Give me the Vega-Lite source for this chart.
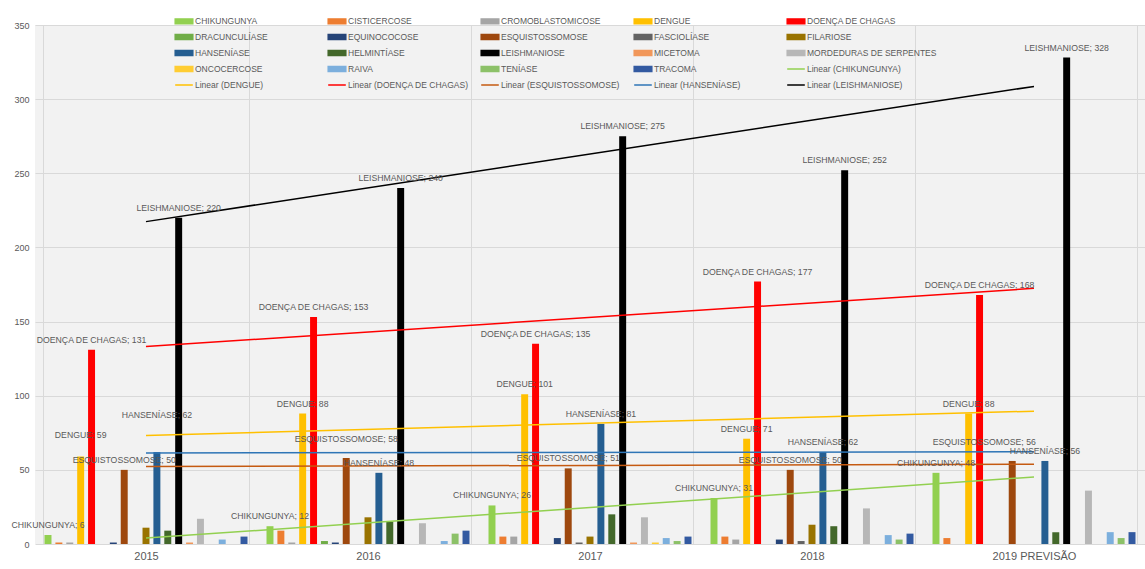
{
  "$schema": "https://vega.github.io/schema/vega-lite/v6.json",
  "width": 1145,
  "height": 569,
  "autosize": {"type": "fit", "contains": "padding"},
  "padding": {"left": 5, "top": 21, "right": 0, "bottom": 5},
  "background": "#FFFFFF",
  "config": {
    "view": {"fill": "#F2F2F2", "stroke": null},
    "font": "Liberation Sans"
  },
  "datasets": {
    "barras": [
      {"ano": "2015", "serie": "CHIKUNGUNYA", "valor": 6},
      {"ano": "2016", "serie": "CHIKUNGUNYA", "valor": 12},
      {"ano": "2017", "serie": "CHIKUNGUNYA", "valor": 26},
      {"ano": "2018", "serie": "CHIKUNGUNYA", "valor": 31},
      {"ano": "2019 PREVISÃO", "serie": "CHIKUNGUNYA", "valor": 48},
      {"ano": "2015", "serie": "CISTICERCOSE", "valor": 1},
      {"ano": "2016", "serie": "CISTICERCOSE", "valor": 9},
      {"ano": "2017", "serie": "CISTICERCOSE", "valor": 5},
      {"ano": "2018", "serie": "CISTICERCOSE", "valor": 5},
      {"ano": "2019 PREVISÃO", "serie": "CISTICERCOSE", "valor": 4},
      {"ano": "2015", "serie": "CROMOBLASTOMICOSE", "valor": 1},
      {"ano": "2016", "serie": "CROMOBLASTOMICOSE", "valor": 1},
      {"ano": "2017", "serie": "CROMOBLASTOMICOSE", "valor": 5},
      {"ano": "2018", "serie": "CROMOBLASTOMICOSE", "valor": 3},
      {"ano": "2019 PREVISÃO", "serie": "CROMOBLASTOMICOSE", "valor": 0},
      {"ano": "2015", "serie": "DENGUE", "valor": 59},
      {"ano": "2016", "serie": "DENGUE", "valor": 88},
      {"ano": "2017", "serie": "DENGUE", "valor": 101},
      {"ano": "2018", "serie": "DENGUE", "valor": 71},
      {"ano": "2019 PREVISÃO", "serie": "DENGUE", "valor": 88},
      {"ano": "2015", "serie": "DOENÇA DE CHAGAS", "valor": 131},
      {"ano": "2016", "serie": "DOENÇA DE CHAGAS", "valor": 153},
      {"ano": "2017", "serie": "DOENÇA DE CHAGAS", "valor": 135},
      {"ano": "2018", "serie": "DOENÇA DE CHAGAS", "valor": 177},
      {"ano": "2019 PREVISÃO", "serie": "DOENÇA DE CHAGAS", "valor": 168},
      {"ano": "2015", "serie": "DRACUNCULÍASE", "valor": 0},
      {"ano": "2016", "serie": "DRACUNCULÍASE", "valor": 2},
      {"ano": "2017", "serie": "DRACUNCULÍASE", "valor": 0},
      {"ano": "2018", "serie": "DRACUNCULÍASE", "valor": 0},
      {"ano": "2019 PREVISÃO", "serie": "DRACUNCULÍASE", "valor": 0},
      {"ano": "2015", "serie": "EQUINOCOCOSE", "valor": 1},
      {"ano": "2016", "serie": "EQUINOCOCOSE", "valor": 1},
      {"ano": "2017", "serie": "EQUINOCOCOSE", "valor": 4},
      {"ano": "2018", "serie": "EQUINOCOCOSE", "valor": 3},
      {"ano": "2019 PREVISÃO", "serie": "EQUINOCOCOSE", "valor": 0},
      {"ano": "2015", "serie": "ESQUISTOSSOMOSE", "valor": 50},
      {"ano": "2016", "serie": "ESQUISTOSSOMOSE", "valor": 58},
      {"ano": "2017", "serie": "ESQUISTOSSOMOSE", "valor": 51},
      {"ano": "2018", "serie": "ESQUISTOSSOMOSE", "valor": 50},
      {"ano": "2019 PREVISÃO", "serie": "ESQUISTOSSOMOSE", "valor": 56},
      {"ano": "2015", "serie": "FASCIOLÍASE", "valor": 0},
      {"ano": "2016", "serie": "FASCIOLÍASE", "valor": 0},
      {"ano": "2017", "serie": "FASCIOLÍASE", "valor": 1},
      {"ano": "2018", "serie": "FASCIOLÍASE", "valor": 2},
      {"ano": "2019 PREVISÃO", "serie": "FASCIOLÍASE", "valor": 0},
      {"ano": "2015", "serie": "FILARIOSE", "valor": 11},
      {"ano": "2016", "serie": "FILARIOSE", "valor": 18},
      {"ano": "2017", "serie": "FILARIOSE", "valor": 5},
      {"ano": "2018", "serie": "FILARIOSE", "valor": 13},
      {"ano": "2019 PREVISÃO", "serie": "FILARIOSE", "valor": 0},
      {"ano": "2015", "serie": "HANSENÍASE", "valor": 62},
      {"ano": "2016", "serie": "HANSENÍASE", "valor": 48},
      {"ano": "2017", "serie": "HANSENÍASE", "valor": 81},
      {"ano": "2018", "serie": "HANSENÍASE", "valor": 62},
      {"ano": "2019 PREVISÃO", "serie": "HANSENÍASE", "valor": 56},
      {"ano": "2015", "serie": "HELMINTÍASE", "valor": 9},
      {"ano": "2016", "serie": "HELMINTÍASE", "valor": 15},
      {"ano": "2017", "serie": "HELMINTÍASE", "valor": 20},
      {"ano": "2018", "serie": "HELMINTÍASE", "valor": 12},
      {"ano": "2019 PREVISÃO", "serie": "HELMINTÍASE", "valor": 8},
      {"ano": "2015", "serie": "LEISHMANIOSE", "valor": 220},
      {"ano": "2016", "serie": "LEISHMANIOSE", "valor": 240},
      {"ano": "2017", "serie": "LEISHMANIOSE", "valor": 275},
      {"ano": "2018", "serie": "LEISHMANIOSE", "valor": 252},
      {"ano": "2019 PREVISÃO", "serie": "LEISHMANIOSE", "valor": 328},
      {"ano": "2015", "serie": "MICETOMA", "valor": 1},
      {"ano": "2016", "serie": "MICETOMA", "valor": 0},
      {"ano": "2017", "serie": "MICETOMA", "valor": 1},
      {"ano": "2018", "serie": "MICETOMA", "valor": 0},
      {"ano": "2019 PREVISÃO", "serie": "MICETOMA", "valor": 0},
      {"ano": "2015", "serie": "MORDEDURAS DE SERPENTES", "valor": 17},
      {"ano": "2016", "serie": "MORDEDURAS DE SERPENTES", "valor": 14},
      {"ano": "2017", "serie": "MORDEDURAS DE SERPENTES", "valor": 18},
      {"ano": "2018", "serie": "MORDEDURAS DE SERPENTES", "valor": 24},
      {"ano": "2019 PREVISÃO", "serie": "MORDEDURAS DE SERPENTES", "valor": 36},
      {"ano": "2015", "serie": "ONCOCERCOSE", "valor": 0},
      {"ano": "2016", "serie": "ONCOCERCOSE", "valor": 0},
      {"ano": "2017", "serie": "ONCOCERCOSE", "valor": 1},
      {"ano": "2018", "serie": "ONCOCERCOSE", "valor": 0},
      {"ano": "2019 PREVISÃO", "serie": "ONCOCERCOSE", "valor": 0},
      {"ano": "2015", "serie": "RAIVA", "valor": 3},
      {"ano": "2016", "serie": "RAIVA", "valor": 2},
      {"ano": "2017", "serie": "RAIVA", "valor": 4},
      {"ano": "2018", "serie": "RAIVA", "valor": 6},
      {"ano": "2019 PREVISÃO", "serie": "RAIVA", "valor": 8},
      {"ano": "2015", "serie": "TENÍASE", "valor": 0},
      {"ano": "2016", "serie": "TENÍASE", "valor": 7},
      {"ano": "2017", "serie": "TENÍASE", "valor": 2},
      {"ano": "2018", "serie": "TENÍASE", "valor": 3},
      {"ano": "2019 PREVISÃO", "serie": "TENÍASE", "valor": 4},
      {"ano": "2015", "serie": "TRACOMA", "valor": 5},
      {"ano": "2016", "serie": "TRACOMA", "valor": 9},
      {"ano": "2017", "serie": "TRACOMA", "valor": 5},
      {"ano": "2018", "serie": "TRACOMA", "valor": 7},
      {"ano": "2019 PREVISÃO", "serie": "TRACOMA", "valor": 8}
    ],
    "tendencias": [
      {"ano": "2015", "serie": "Linear (CHIKUNGUNYA)", "valor": 4.0},
      {"ano": "2019 PREVISÃO", "serie": "Linear (CHIKUNGUNYA)", "valor": 45.2},
      {"ano": "2015", "serie": "Linear (DENGUE)", "valor": 73.2},
      {"ano": "2019 PREVISÃO", "serie": "Linear (DENGUE)", "valor": 89.6},
      {"ano": "2015", "serie": "Linear (DOENÇA DE CHAGAS)", "valor": 133.2},
      {"ano": "2019 PREVISÃO", "serie": "Linear (DOENÇA DE CHAGAS)", "valor": 172.4},
      {"ano": "2015", "serie": "Linear (ESQUISTOSSOMOSE)", "valor": 52.2},
      {"ano": "2019 PREVISÃO", "serie": "Linear (ESQUISTOSSOMOSE)", "valor": 53.8},
      {"ano": "2015", "serie": "Linear (HANSENÍASE)", "valor": 61.4},
      {"ano": "2019 PREVISÃO", "serie": "Linear (HANSENÍASE)", "valor": 62.2},
      {"ano": "2015", "serie": "Linear (LEISHMANIOSE)", "valor": 217.4},
      {"ano": "2019 PREVISÃO", "serie": "Linear (LEISHMANIOSE)", "valor": 308.6}
    ]
  },
  "encoding": {
    "x": {
      "field": "ano", "type": "nominal", "sort": null,
      "scale": {"domain": ["2015", "2016", "2017", "2018", "2019 PREVISÃO"], "paddingInner": 0.068, "paddingOuter": 0.034},
      "axis": {"title": null, "labelAngle": 0, "labelFontSize": 11, "labelColor": "#595959", "labelPadding": 6, "domain": false, "ticks": false, "grid": true, "tickBand": "extent", "gridColor": "#D9D9D9", "minExtent": 20, "maxExtent": 20}
    },
    "y": {
      "field": "valor", "type": "quantitative",
      "scale": {"domain": [0, 350], "nice": false},
      "axis": {"title": null, "values": [0, 50, 100, 150, 200, 250, 300, 350], "labelFontSize": 9, "labelColor": "#595959", "labelPadding": 6, "domain": false, "ticks": false, "gridColor": "#D9D9D9", "minExtent": 30, "maxExtent": 30}
    }
  },
  "layer": [
    {
      "data": {"name": "barras"},
      "mark": {"type": "bar"},
      "encoding": {
        "xOffset": {"field": "serie", "type": "nominal", "sort": null, "scale": {"paddingInner": 0.36, "paddingOuter": 0.18}},
        "color": {
          "field": "serie", "type": "nominal",
          "scale": {
            "domain": ["CHIKUNGUNYA", "CISTICERCOSE", "CROMOBLASTOMICOSE", "DENGUE", "DOENÇA DE CHAGAS", "DRACUNCULÍASE", "EQUINOCOCOSE", "ESQUISTOSSOMOSE", "FASCIOLÍASE", "FILARIOSE", "HANSENÍASE", "HELMINTÍASE", "LEISHMANIOSE", "MICETOMA", "MORDEDURAS DE SERPENTES", "ONCOCERCOSE", "RAIVA", "TENÍASE", "TRACOMA", "Linear (CHIKUNGUNYA)", "Linear (DENGUE)", "Linear (DOENÇA DE CHAGAS)", "Linear (ESQUISTOSSOMOSE)", "Linear (HANSENÍASE)", "Linear (LEISHMANIOSE)"],
            "range": ["#92D050", "#ED7D31", "#A5A5A5", "#FFC000", "#FF0000", "#70AD47", "#264478", "#9E480E", "#636363", "#997300", "#255E91", "#43682B", "#000000", "#F1975A", "#B7B7B7", "#FFCD33", "#7CAFDD", "#8CC168", "#335AA1", "#92D050", "#FFC000", "#FF0000", "#C55A11", "#2E75B6", "#000000"]
          },
          "legend": {
            "orient": "none", "legendX": 140, "legendY": -13, "columns": 5, "direction": "horizontal", "title": null,
            "labelFontSize": 8.5, "labelColor": "#595959", "labelLimit": 200, "labelOffset": 2,
            "symbolSize": 256, "rowPadding": 1, "columnPadding": 0, "gridAlign": "all",
            "encode": {
              "symbols": {
                "update": {
                  "shape": {"signal": "indexof(datum.value, 'Linear') === 0 ? 'M-1.1,0H1.1' : 'M-1.1,-0.3H1.1V0.3H-1.1Z'"},
                  "fill": {"scale": "color", "field": "value"},
                  "stroke": {"scale": "color", "field": "value"},
                  "strokeWidth": {"value": 1.5},
                  "opacity": {"value": 1}
                }
              }
            }
          }
        }
      }
    },
    {
      "data": {"name": "tendencias"},
      "mark": {"type": "line", "strokeWidth": 1.5},
      "encoding": {
        "color": {"field": "serie", "type": "nominal"}
      }
    },
    {
      "data": {"name": "barras"},
      "transform": [
        {"filter": {"field": "serie", "oneOf": ["CHIKUNGUNYA", "DENGUE", "DOENÇA DE CHAGAS", "ESQUISTOSSOMOSE", "HANSENÍASE", "LEISHMANIOSE"]}},
        {"filter": "!((datum.serie === 'ESQUISTOSSOMOSE' && (datum.ano === '2019 PREVISÃO' || datum.ano === '2016')) || (datum.ano === '2015' && (datum.serie === 'DENGUE' || datum.serie === 'HANSENÍASE')))"}
      ],
      "mark": {"type": "text", "fontSize": 8.7, "fill": "#595959", "baseline": "bottom", "dy": -5, "text": {"expr": "datum.serie + ';  ' + datum.valor"}},
      "encoding": {
        "xOffset": {"field": "serie", "type": "nominal", "sort": null}
      }
    },
    {
      "data": {"name": "barras"},
      "transform": [
        {"filter": "(datum.serie === 'ESQUISTOSSOMOSE' && (datum.ano === '2019 PREVISÃO' || datum.ano === '2016')) || (datum.ano === '2015' && (datum.serie === 'DENGUE' || datum.serie === 'HANSENÍASE'))"}
      ],
      "mark": {
        "type": "text", "fontSize": 8.7, "fill": "#595959", "baseline": "bottom",
        "dx": {"expr": "datum.ano === '2019 PREVISÃO' ? -28 : 0"},
        "dy": {"expr": "datum.serie === 'HANSENÍASE' ? -32 : datum.serie === 'DENGUE' ? -17 : -14"},
        "text": {"expr": "datum.serie + ';  ' + datum.valor"}
      },
      "encoding": {
        "xOffset": {"field": "serie", "type": "nominal", "sort": null}
      }
    }
  ]
}
